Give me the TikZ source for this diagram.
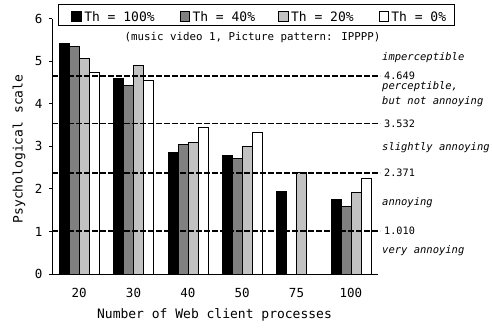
\documentclass[tikz,border=0pt]{standalone}
\usepackage{fontspec}
\setmainfont{DejaVu Sans Mono}
\usetikzlibrary{positioning}
\definecolor{dgray}{gray}{0.5}
\definecolor{lgray}{gray}{0.76}
\tikzset{
  bar/.style={draw=black, line width=0.6pt},
  cutline/.style={dash pattern=on 5.5pt off 2.5pt, line width=1.4pt},
  legkey/.style={draw=black, line width=0.6pt, minimum size=9.5pt, inner sep=0pt},
  legtext/.style={font=\fontsize{13}{15}\selectfont, inner sep=0pt},
  tick/.style={font=\fontsize{12.5}{14}\selectfont, inner sep=0pt},
  value/.style={font=\fontsize{10.2}{12}\selectfont, anchor=west, inner sep=0pt},
  grade/.style={font=\fontsize{10.5}{15}\selectfont\itshape, anchor=west, align=left, inner sep=0pt}
}
\begin{document}
\begin{tikzpicture}[x=1pt,y=42.55pt]
  \useasboundingbox (-52pt,-57pt) rectangle (441pt,274pt);

  % 20
  \draw[bar, fill=black] (7.2,0) rectangle (17.2,5.42);
  \draw[bar, fill=dgray] (17.2,0) rectangle (27.2,5.35);
  \draw[bar, fill=lgray] (27.2,0) rectangle (37.2,5.08);
  \draw[bar, fill=white] (37.2,0) rectangle (47.2,4.74);
  % 30
  \draw[bar, fill=black] (61.5,0) rectangle (71.5,4.59);
  \draw[bar, fill=dgray] (71.5,0) rectangle (81.5,4.44);
  \draw[bar, fill=lgray] (81.5,0) rectangle (91.5,4.90);
  \draw[bar, fill=white] (91.5,0) rectangle (101.5,4.55);
  % 40
  \draw[bar, fill=black] (115.8,0) rectangle (125.8,2.85);
  \draw[bar, fill=dgray] (125.8,0) rectangle (135.8,3.05);
  \draw[bar, fill=lgray] (135.8,0) rectangle (145.8,3.10);
  \draw[bar, fill=white] (145.8,0) rectangle (155.8,3.44);
  % 50
  \draw[bar, fill=black] (170.2,0) rectangle (180.2,2.80);
  \draw[bar, fill=dgray] (180.2,0) rectangle (190.2,2.73);
  \draw[bar, fill=lgray] (190.2,0) rectangle (200.2,3.00);
  \draw[bar, fill=white] (200.2,0) rectangle (210.2,3.32);
  % 75
  \draw[bar, fill=black] (224.5,0) rectangle (234.5,1.94);
  \draw[bar, fill=lgray] (244.5,0) rectangle (254.5,2.40);
  % 100
  \draw[bar, fill=black] (278.8,0) rectangle (288.8,1.75);
  \draw[bar, fill=dgray] (288.8,0) rectangle (298.8,1.58);
  \draw[bar, fill=lgray] (298.8,0) rectangle (308.8,1.93);
  \draw[bar, fill=white] (308.8,0) rectangle (318.8,2.25);

  % thresholds
  \coordinate (a1) at (0,4.649);
  \coordinate (a2) at (0,3.532);
  \coordinate (a3) at (0,2.371);
  \coordinate (a4) at (0,1.010);
  \coordinate (b1) at (328,4.649);
  \coordinate (b2) at (328,3.532);
  \coordinate (b3) at (328,2.371);
  \coordinate (b4) at (328,1.010);
  \draw[cutline] (a1) -- (b1);
  \draw[cutline] (a2) -- (b2);
  \draw[cutline] (a3) -- (b3);
  \draw[cutline] (a4) -- (b4);
  \node[value] (v1) at (332,4.649) {4.649};
  \node[value] (v2) at (332,3.532) {3.532};
  \node[value] (v3) at (332,2.371) {2.371};
  \node[value] (v4) at (332,1.010) {1.010};

  \node[grade] (g1) at (330pt,216pt) {imperceptible};
  \node[grade] (g2) at (330pt,179.5pt) {perceptible,\\but not annoying};
  \node[grade] (g3) at (330pt,126pt) {slightly annoying};
  \node[grade] (g4) at (330pt,71pt) {annoying};
  \node[grade] (g5) at (330pt,23pt) {very annoying};

  % axes
  \coordinate (o) at (0,0);
  \coordinate (top) at (0,6);
  \coordinate (end) at (326,0);
  \draw[line width=0.8pt] (top) -- (o) -- (end);
  \foreach \k in {0,...,6} {
    \draw[line width=0.8pt] (-3,\k) -- (0,\k);
    \node[tick, anchor=east] (y\k) at (-9.5,\k) {\k};
  }

  \node[tick] (x1) at (27.2pt,-19pt) {20};
  \node[tick] (x2) at (81.5pt,-19pt) {30};
  \node[tick] (x3) at (135.8pt,-19pt) {40};
  \node[tick] (x4) at (190.2pt,-19pt) {50};
  \node[tick] (x5) at (244.5pt,-19pt) {75};
  \node[tick] (x6) at (298.8pt,-19pt) {100};

  \node[legtext] (xt) at (162.5pt,-41pt) {Number of Web client processes};
  \node[legtext, rotate=90] (yt) at (-33pt,125pt) {Psychological scale};

  % legend
  \node[draw, line width=0.8pt, minimum width=395.3pt, minimum height=21.7pt] (legend) at (204.35pt,259.15pt) {};
  \node[legkey, fill=black] (k1) at (24.5pt,257.5pt) {};
  \node[legtext, right=2.5pt of k1] (l1) {Th = 100\%};
  \node[legkey, fill=dgray] (k2) at (132.75pt,257.5pt) {};
  \node[legtext, right=2.5pt of k2] (l2) {Th = 40\%};
  \node[legkey, fill=lgray] (k3) at (231.3pt,257.5pt) {};
  \node[legtext, right=2.5pt of k3] (l3) {Th = 20\%};
  \node[legkey, fill=white] (k4) at (331.6pt,257.5pt) {};
  \node[legtext, right=2.5pt of k4] (l4) {Th = 0\%};

  \node[font=\fontsize{10.8}{12}\selectfont, inner sep=0pt] (sub) at (200.5pt,236.5pt) {(music video 1, Picture pattern: IPPPP)};
\end{tikzpicture}
\end{document}
